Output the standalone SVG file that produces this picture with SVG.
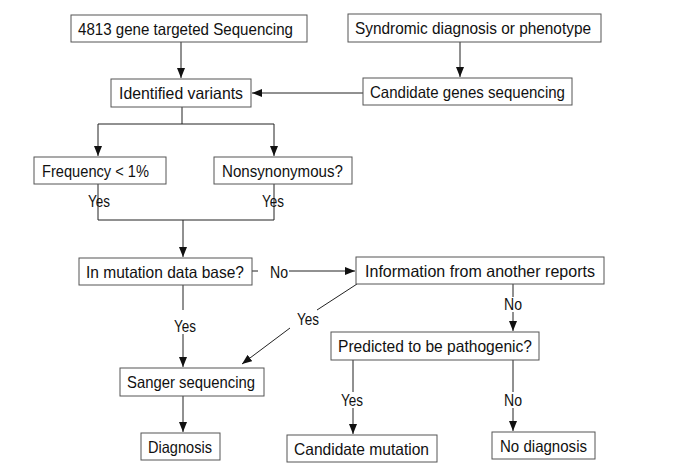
<svg xmlns="http://www.w3.org/2000/svg" width="675" height="474" viewBox="0 0 675 474">
<style>
rect.b{fill:#fff;stroke:#555;stroke-width:1}
text{font-family:"Liberation Sans",Arial,sans-serif;font-size:16.5px;fill:#111}
g.n text{text-anchor:start}
#labels text{text-anchor:middle}
.c line,.c polyline{stroke:#222;stroke-width:1;fill:none}
</style>
<defs>
<marker id="a" viewBox="0 0 10 8" refX="10" refY="4" markerWidth="10" markerHeight="8" markerUnits="userSpaceOnUse" orient="auto">
<path d="M0,0L10,4L0,8z" fill="#111"/>
</marker>
</defs>
<rect width="675" height="474" fill="#fff"/>
<g class="c" id="connectors">
<line x1="181" y1="42" x2="181" y2="78" marker-end="url(#a)"/>
<line x1="460" y1="42" x2="460" y2="77" marker-end="url(#a)"/>
<line x1="363" y1="93" x2="252" y2="93" marker-end="url(#a)"/>
<line x1="182" y1="107" x2="182" y2="124"/>
<line x1="98" y1="124" x2="274" y2="124"/>
<line x1="98" y1="124" x2="98" y2="156" marker-end="url(#a)"/>
<line x1="274" y1="124" x2="274" y2="156" marker-end="url(#a)"/>
<polyline points="98,184 98,220 274,220 274,184"/>
<line x1="183" y1="220" x2="183" y2="257" marker-end="url(#a)"/>
<line x1="252" y1="271" x2="258" y2="271"/>
<line x1="289" y1="271" x2="355" y2="271" marker-end="url(#a)"/>
<line x1="513" y1="284" x2="513" y2="297"/>
<line x1="513" y1="312" x2="513" y2="331" marker-end="url(#a)"/>
<line x1="183" y1="285" x2="183" y2="310"/>
<line x1="183" y1="334" x2="183" y2="367" marker-end="url(#a)"/>
<line x1="357" y1="284" x2="317" y2="310"/>
<line x1="290" y1="328" x2="242" y2="364" marker-end="url(#a)"/>
<line x1="183" y1="396" x2="183" y2="432" marker-end="url(#a)"/>
<line x1="353" y1="360" x2="353" y2="392"/>
<line x1="353" y1="408" x2="353" y2="434" marker-end="url(#a)"/>
<line x1="513" y1="360" x2="513" y2="392"/>
<line x1="513" y1="408" x2="513" y2="431" marker-end="url(#a)"/>
</g>
<g id="labels">
<text x="99" y="207" textLength="22" lengthAdjust="spacingAndGlyphs">Yes</text>
<text x="273" y="207" textLength="22" lengthAdjust="spacingAndGlyphs">Yes</text>
<text x="279" y="278" textLength="18" lengthAdjust="spacingAndGlyphs">No</text>
<text x="513" y="310" textLength="18" lengthAdjust="spacingAndGlyphs">No</text>
<text x="185" y="332" textLength="22" lengthAdjust="spacingAndGlyphs">Yes</text>
<text x="308" y="325" textLength="22" lengthAdjust="spacingAndGlyphs">Yes</text>
<text x="352" y="406" textLength="22" lengthAdjust="spacingAndGlyphs">Yes</text>
<text x="513" y="406" textLength="18" lengthAdjust="spacingAndGlyphs">No</text>
</g>
<g class="n" id="n1"><rect class="b" x="71" y="15" width="236" height="27"/><text x="78" y="34.5" textLength="215" lengthAdjust="spacingAndGlyphs">4813 gene targeted Sequencing</text></g>
<g class="n" id="n2"><rect class="b" x="348" y="14" width="253" height="28"/><text x="355" y="34" textLength="236" lengthAdjust="spacingAndGlyphs">Syndromic diagnosis or phenotype</text></g>
<g class="n" id="n3"><rect class="b" x="111" y="79" width="140" height="28"/><text x="119" y="99" textLength="124" lengthAdjust="spacingAndGlyphs">Identified variants</text></g>
<g class="n" id="n4"><rect class="b" x="363" y="78" width="209" height="27"/><text x="370" y="97.5" textLength="195" lengthAdjust="spacingAndGlyphs">Candidate genes sequencing</text></g>
<g class="n" id="n5"><rect class="b" x="34" y="157" width="132" height="27"/><text x="42" y="176.5" textLength="107" lengthAdjust="spacingAndGlyphs">Frequency &lt; 1%</text></g>
<g class="n" id="n6"><rect class="b" x="214" y="157" width="138" height="27"/><text x="222" y="176.5" textLength="121" lengthAdjust="spacingAndGlyphs">Nonsynonymous?</text></g>
<g class="n" id="n7"><rect class="b" x="79" y="258" width="173" height="27"/><text x="86" y="277.5" textLength="158" lengthAdjust="spacingAndGlyphs">In mutation data base?</text></g>
<g class="n" id="n8"><rect class="b" x="356" y="257" width="248" height="27"/><text x="365" y="276.5" textLength="230" lengthAdjust="spacingAndGlyphs">Information from another reports</text></g>
<g class="n" id="n9"><rect class="b" x="331" y="332" width="208" height="28"/><text x="338" y="352" textLength="194" lengthAdjust="spacingAndGlyphs">Predicted to be pathogenic?</text></g>
<g class="n" id="n10"><rect class="b" x="120" y="368" width="144" height="28"/><text x="127" y="388" textLength="128" lengthAdjust="spacingAndGlyphs">Sanger sequencing</text></g>
<g class="n" id="n11"><rect class="b" x="141" y="433" width="79" height="27"/><text x="148" y="452.5" textLength="64" lengthAdjust="spacingAndGlyphs">Diagnosis</text></g>
<g class="n" id="n12"><rect class="b" x="287" y="435" width="150" height="27"/><text x="294" y="454.5" textLength="135" lengthAdjust="spacingAndGlyphs">Candidate mutation</text></g>
<g class="n" id="n13"><rect class="b" x="492" y="432" width="103" height="27"/><text x="500" y="451.5" textLength="87" lengthAdjust="spacingAndGlyphs">No diagnosis</text></g>
</svg>
